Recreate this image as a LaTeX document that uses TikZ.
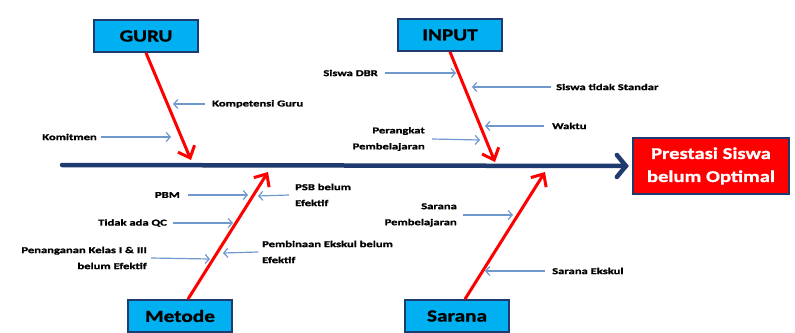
\documentclass[tikz,border=0pt]{standalone}
\usepackage{fontspec}
\setmainfont{Carlito}[FakeStretch=1.25,FakeBold=1]
\newfontfamily\causefont{Carlito}[FakeStretch=1.4,FakeBold=1.5]
\usetikzlibrary{arrows.meta}
\definecolor{navy}{HTML}{1F3A6E}
\definecolor{boxcyan}{HTML}{00B0F0}
\definecolor{effred}{HTML}{FF0000}
\definecolor{subblue}{HTML}{6F98CC}
\begin{document}
\begin{tikzpicture}[x=1pt,y=-1pt,
  catbox/.style={draw=navy,line width=1.8pt,fill=boxcyan,minimum width=104pt,
    minimum height=32pt,inner sep=0pt,font=\bfseries\fontsize{17}{17}\selectfont},
  effbox/.style={draw=navy,line width=2.4pt,fill=effred,text=white,minimum width=156pt,
    minimum height=56pt,inner sep=0pt,align=center,font=\bfseries\fontsize{16.5}{23}\selectfont},
  spine/.style={navy,line width=4.5pt,line cap=round,
    -{Straight Barb[length=9pt,width=22pt,line cap=round]}},
  bone/.style={effred,line width=3pt,-{Straight Barb[length=10pt,width=18pt]}},
  sub/.style={subblue,line width=1.2pt,-{Straight Barb[length=4pt,width=9pt]}},
  cause/.style={inner sep=0pt,font=\causefont\bfseries\fontsize{9}{16}\selectfont}
]
\useasboundingbox (0,0) rectangle (795,332);

% effect and main spine
\node[effbox] (effect) at (711,166) {Prestasi Siswa\\belum Optimal};
\coordinate (tail) at (62,165);
\draw[spine] (tail) -- ([xshift=-3pt]effect.west);

% category boxes
\node[catbox] (guru)   at (146,36)  {GURU};
\node[catbox] (input)  at (450,35)  {INPUT};
\node[catbox] (metode) at (180,316) {Metode};
\node[catbox] (sarana) at (457,316) {Sarana};

% bone end points on the spine
\coordinate (g-end) at (191,160);
\coordinate (i-end) at (495,162);
\coordinate (m-end) at (268,172);
\coordinate (s-end) at (545,172);

\draw[bone] (guru.south) -- (g-end);
\draw[bone] (input.south) -- (i-end);
\draw[bone] ([xshift=8pt]metode.north) -- (m-end);
\draw[bone] ([xshift=8pt]sarana.north) -- (s-end);

% GURU causes
\node[cause,anchor=west] (kompetensi) at (212,104) {Kompetensi Guru};
\coordinate (kompetensi-to) at (173,104);
\draw[sub] ([xshift=-7pt]kompetensi.west) -- (kompetensi-to);
\node[cause,anchor=east] (komitmen) at (97,137) {Komitmen};
\coordinate (komitmen-to) at (171,137);
\draw[sub] ([xshift=4pt]komitmen.east) -- (komitmen-to);

% INPUT causes
\node[cause,anchor=east] (dbr) at (378,73) {Siswa DBR};
\coordinate (dbr-to) at (456,73);
\draw[sub] ([xshift=7pt]dbr.east) -- (dbr-to);
\node[cause,anchor=west] (standar) at (556,87) {Siswa tidak Standar};
\coordinate (standar-to) at (472,87);
\draw[sub] ([xshift=-5pt]standar.west) -- (standar-to);
\node[cause,anchor=west] (waktu) at (552,126) {Waktu};
\coordinate (waktu-to) at (485,126);
\draw[sub] ([xshift=-8pt]waktu.west) -- (waktu-to);
\node[cause,anchor=east,align=right] (perangkat) at (425,139) {Perangkat\\Pembelajaran};
\coordinate (perangkat-to) at (480,140);
\draw[sub] ([xshift=7pt]perangkat.east) -- (perangkat-to);

% Metode causes
\node[cause,anchor=east] (pbm) at (180,195) {PBM};
\coordinate (pbm-to) at (248,195);
\draw[sub] ([xshift=8pt]pbm.east) -- (pbm-to);
\node[cause,anchor=west,align=left] (psb) at (295,195) {PSB belum\\Efektif};
\coordinate (psb-to) at (258,196);
\draw[sub] ([xshift=-6pt]psb.west) -- (psb-to);
\node[cause,anchor=east] (qc) at (167,223) {Tidak ada QC};
\coordinate (qc-to) at (233,223);
\draw[sub] ([xshift=6pt]qc.east) -- (qc-to);
\node[cause,anchor=east,align=right] (kelas) at (147,258) {Penanganan Kelas I \& III\\belum Efektif};
\coordinate (kelas-to) at (210,259);
\draw[sub] ([xshift=4pt]kelas.east) -- (kelas-to);
\node[cause,anchor=west,align=left] (ekskul) at (262,252) {Pembinaan Ekskul belum\\Efektif};
\coordinate (ekskul-to) at (223,253);
\draw[sub] ([xshift=-4pt]ekskul.west) -- (ekskul-to);

% Sarana causes
\node[cause,anchor=east,align=right] (sarpem) at (457,215) {Sarana\\Pembelajaran};
\coordinate (sarpem-to) at (513,215);
\draw[sub] ([xshift=6pt]sarpem.east) -- (sarpem-to);
\node[cause,anchor=west] (sarek) at (552,271) {Sarana Ekskul};
\coordinate (sarek-to) at (485,271);
\draw[sub] ([xshift=-7pt]sarek.west) -- (sarek-to);
\end{tikzpicture}
\end{document}
